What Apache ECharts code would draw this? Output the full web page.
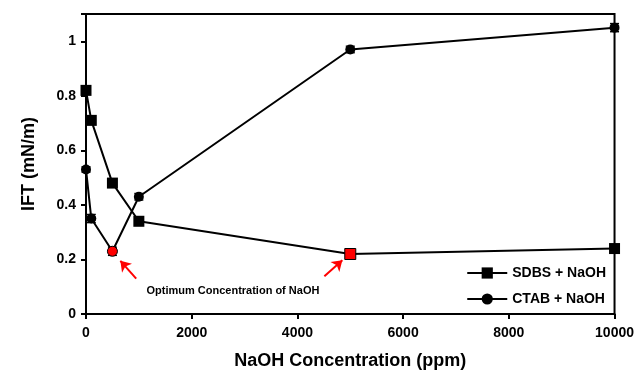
<!DOCTYPE html>
<html>
<head>
<meta charset="utf-8">
<script src="https://cdn.jsdelivr.net/npm/echarts@6/dist/echarts.min.js"></script>
<style>
  html, body { margin: 0; padding: 0; background: #fff; }
  #chart { width: 637px; height: 375px; }
</style>
</head>
<body>
<div id="chart"></div>
<script>
// NaOH concentrations (ppm)
const concentrations = [0, 100, 500, 1000, 5000, 10000];
// IFT values (mN/m)
const sdbsIFT = [0.82, 0.71, 0.48, 0.34, 0.22, 0.24];
const ctabIFT = [0.53, 0.35, 0.23, 0.43, 0.97, 1.05];
// standard error of each measurement
const sdbsErr = [0.012, 0.015, 0.015, 0.015, 0.01, 0.01];
const ctabErr = [0.01, 0.015, 0.015, 0.012, 0.012, 0.015];
// index of the optimum point in each series
const sdbsOptimum = 4;
const ctabOptimum = 2;
const xTicks = [0, 2000, 4000, 6000, 8000, 10000];
const yTicks = [0, 0.2, 0.4, 0.6, 0.8, 1];
const annotationText = 'Optimum Concentration of NaOH';

const FONT = '"Liberation Sans", Arial, sans-serif';

function pointsOf(values, optimum) {
  return concentrations.map((c, i) => {
    const p = { value: [c, values[i]] };
    if (i === optimum) p.itemStyle = { color: '#ff0000', borderColor: '#000', borderWidth: 1 };
    return p;
  });
}

function errorSeries(values, errs) {
  return {
    type: 'custom',
    silent: true,
    z: 1,
    data: concentrations.map((c, i) => [c, values[i] - errs[i], values[i] + errs[i]]),
    renderItem: function (params, api) {
      const lo = api.coord([api.value(0), api.value(1)]);
      const hi = api.coord([api.value(0), api.value(2)]);
      const w = 4.5;
      const style = { stroke: '#000', lineWidth: 1.4 };
      return {
        type: 'group',
        children: [
          { type: 'line', shape: { x1: lo[0], y1: lo[1], x2: hi[0], y2: hi[1] }, style },
          { type: 'line', shape: { x1: lo[0] - w, y1: lo[1], x2: lo[0] + w, y2: lo[1] }, style },
          { type: 'line', shape: { x1: hi[0] - w, y1: hi[1], x2: hi[0] + w, y2: hi[1] }, style }
        ]
      };
    }
  };
}

const chart = echarts.init(document.getElementById('chart'), null, { renderer: 'canvas' });

chart.setOption({
  animation: false,
  backgroundColor: '#fff',
  grid: { left: 86, right: 22, top: 14, bottom: 59, show: true, borderColor: '#000', borderWidth: 2 },
  legend: {
    orient: 'vertical',
    right: 26,
    top: 261,
    itemWidth: 40,
    itemHeight: 14,
    itemGap: 12,
    textStyle: { fontFamily: FONT, fontSize: 14, fontWeight: 'bold', color: '#000' },
    data: ['SDBS + NaOH', 'CTAB + NaOH']
  },
  xAxis: {
    type: 'value',
    min: 0,
    max: 10000,
    interval: 2000,
    name: 'NaOH Concentration (ppm)',
    nameLocation: 'middle',
    nameGap: 38,
    nameTextStyle: { fontFamily: FONT, fontSize: 18, fontWeight: 'bold', color: '#000' },
    axisLine: { lineStyle: { color: '#000', width: 2 } },
    axisTick: { show: true, length: 5, lineStyle: { color: '#000', width: 2 } },
    axisLabel: {
      fontFamily: FONT, fontSize: 14, fontWeight: 'bold', color: '#000', margin: 12,
      formatter: v => (xTicks.includes(v) ? String(v) : '')
    },
    splitLine: { show: false }
  },
  yAxis: {
    type: 'value',
    min: 0,
    max: 1.1,
    interval: 0.2,
    name: 'IFT (mN/m)',
    nameLocation: 'middle',
    nameGap: 48,
    nameTextStyle: { fontFamily: FONT, fontSize: 18, fontWeight: 'bold', color: '#000' },
    axisLine: { lineStyle: { color: '#000', width: 2 } },
    axisTick: { show: true, length: 5, lineStyle: { color: '#000', width: 2 } },
    axisLabel: {
      fontFamily: FONT, fontSize: 14, fontWeight: 'bold', color: '#000', margin: 10,
      formatter: v => {
        const t = yTicks.find(y => Math.abs(y - v) < 1e-9);
        return t === undefined ? '' : String(t);
      }
    },
    splitLine: { show: false }
  },
  series: [
    errorSeries(sdbsIFT, sdbsErr),
    errorSeries(ctabIFT, ctabErr),
    {
      name: 'SDBS + NaOH',
      type: 'line',
      z: 3,
      symbol: 'rect',
      symbolSize: 11,
      itemStyle: { color: '#000' },
      lineStyle: { color: '#000', width: 2 },
      data: pointsOf(sdbsIFT, sdbsOptimum),
      markLine: {
        silent: true,
        symbol: ['none', 'arrow'],
        symbolSize: 10,
        lineStyle: { color: '#ff0000', width: 2, type: 'solid' },
        label: { show: false },
        data: [
          [{ coord: [950, 0.13] }, { coord: [650, 0.195] }],
          [{ coord: [4510, 0.138] }, { coord: [4850, 0.197] }]
        ]
      },
      markPoint: {
        silent: true,
        symbol: 'circle',
        symbolSize: 0,
        label: {
          show: true,
          formatter: annotationText,
          fontFamily: FONT,
          fontSize: 11,
          fontWeight: 'bold',
          color: '#000'
        },
        data: [{ coord: [2780, 0.084] }]
      }
    },
    {
      name: 'CTAB + NaOH',
      type: 'line',
      z: 3,
      symbol: 'circle',
      symbolSize: 10,
      itemStyle: { color: '#000' },
      lineStyle: { color: '#000', width: 2 },
      data: pointsOf(ctabIFT, ctabOptimum)
    }
  ]
});
</script>
</body>
</html>
